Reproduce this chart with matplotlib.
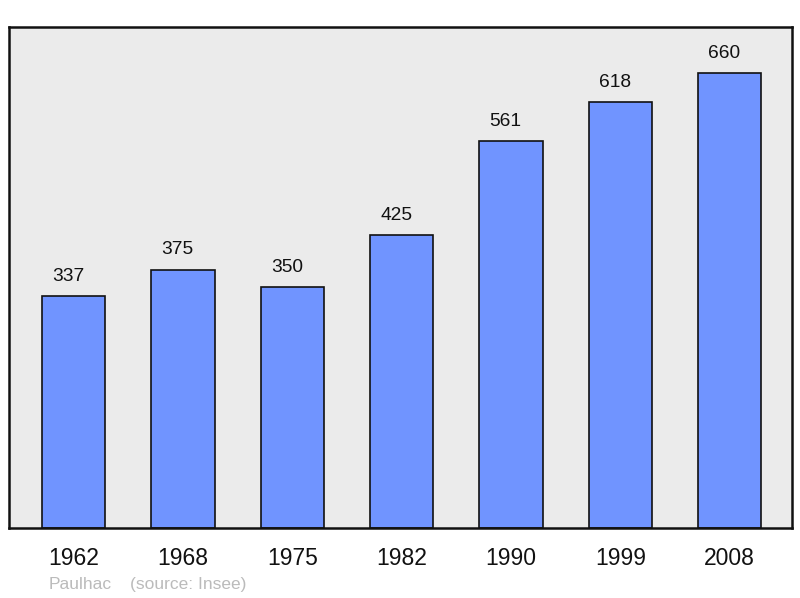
import matplotlib.pyplot as plt

plt.rcParams['font.family'] = ['Liberation Sans', 'DejaVu Sans']

years = ['1962', '1968', '1975', '1982', '1990', '1999', '2008']
population = [337, 375, 350, 425, 561, 618, 660]
commune = 'Paulhac'
source = '(source: Insee)'

fig = plt.figure(figsize=(8, 5.98), dpi=100)
ax = fig.add_axes([9 / 800, 70 / 598, 783 / 800, 501 / 598])
ax.set_facecolor('#ebebeb')

x = range(len(years))
ax.bar(x, population, width=0.58, color='#7094ff', edgecolor='#111111', linewidth=1.2, zorder=2)

# labels sit a little left of the bar centre, like the original
for i, v in zip(x, population):
    ax.annotate(str(v), (i, v), xytext=(-3.8, 8), textcoords='offset points',
                ha='center', va='bottom', fontsize=13.8, color='#111111')

ax.set_xlim(-0.59, 6.57)
ax.set_ylim(0, 727)
ax.set_xticks(list(x))
ax.set_xticklabels(years, fontsize=16.5, color='#111111')
ax.tick_params(axis='x', length=0, pad=14)
ax.set_yticks([])
for s in ax.spines.values():
    s.set_linewidth(1.8)
    s.set_color('#111111')

fig.text(49 / 800, 1 - 584.5 / 598, commune, fontsize=12.5, color='#bbbbbb', va='center')
fig.text(130 / 800, 1 - 584.5 / 598, source, fontsize=12.5, color='#bbbbbb', va='center')

fig.savefig('out.png', dpi=100)
